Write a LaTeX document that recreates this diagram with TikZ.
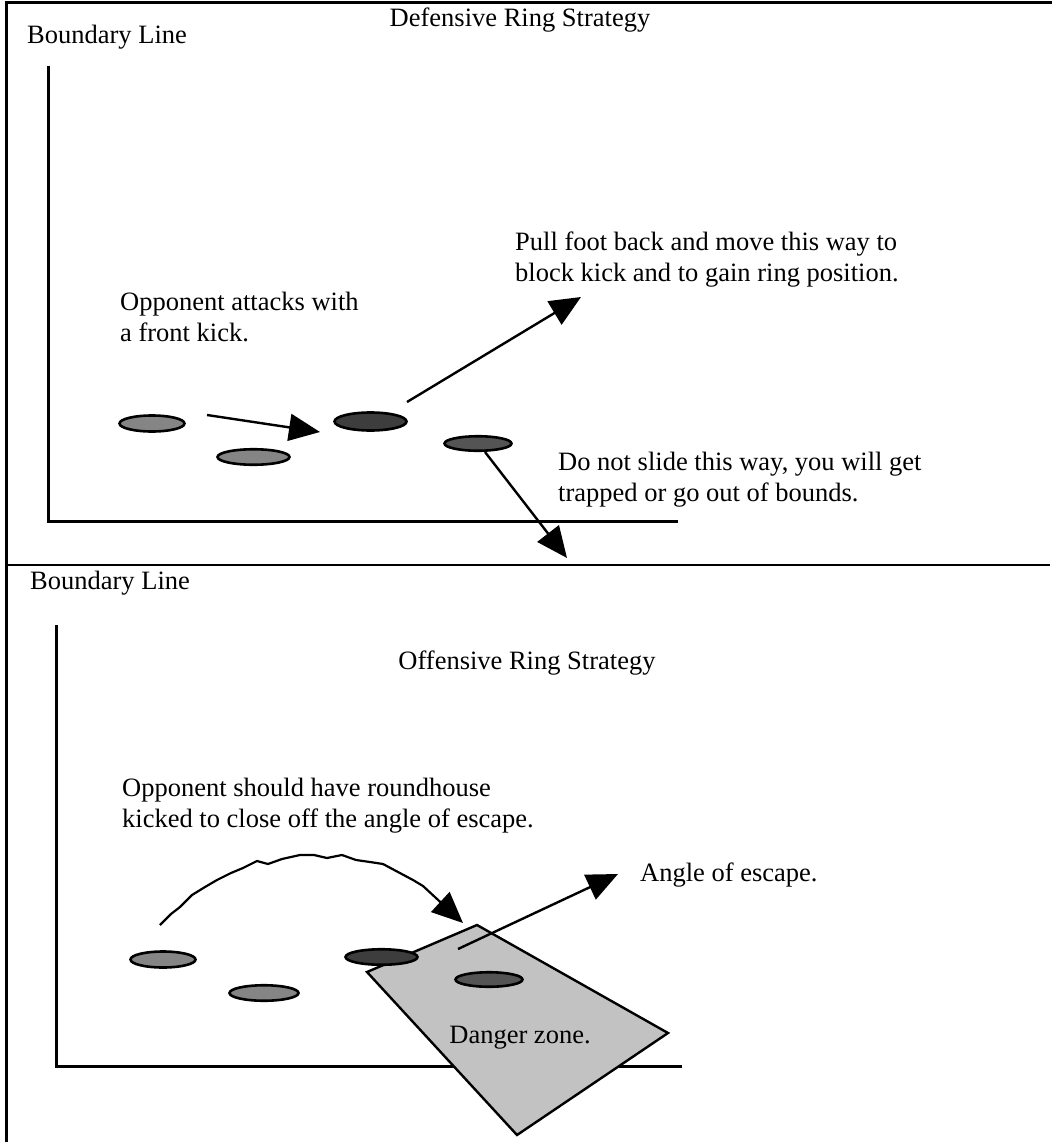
\documentclass[tikz,border=0pt]{standalone}
\usepackage{fontspec}
\setmainfont{Liberation Serif}
\usetikzlibrary{shapes.geometric,arrows.meta}
\definecolor{footlight}{gray}{0.52}
\definecolor{footdark}{gray}{0.24}
\definecolor{footmid}{gray}{0.33}
\definecolor{zonegray}{gray}{0.76}
\begin{document}
\begin{tikzpicture}[x=1pt,y=-1pt,
  foot/.style={ellipse, draw, line width=2.6pt, inner sep=0pt},
  txt/.style={font=\fontsize{26.5}{31}\selectfont, inner sep=0pt, align=left},
  mv/.style={line width=2.4pt, -{Triangle[length=31pt,width=27pt]}},
  frame/.style={line width=2.6pt},
  bound/.style={line width=3pt}]
\useasboundingbox (0,0) rectangle (1052,1142);
\draw[frame] (1052,2.5) -- (6.5,2.5) -- (6.5,1142);
\draw[frame] (6.5,565) -- (1050,565);
\node[txt] (title1) at (520,20) {Defensive Ring Strategy};
\node[txt, anchor=west] (bl1) at (27,37) {Boundary Line};
\coordinate (ulTop) at (48,66);
\coordinate (ulCorner) at (48,521);
\coordinate (ulEnd) at (678,521);
\draw[bound] (ulTop) -- (ulCorner) -- (ulEnd);
\node[txt, anchor=west] (pulltxt) at (515,260) {Pull foot back and move this way to\\block kick and to gain ring position.};
\node[txt, anchor=west] (atktxt) at (120,317) {Opponent attacks with\\a front kick.};
\node[txt, anchor=west] (slidetxt) at (558,480) {Do not slide this way, you will get\\trapped or go out of bounds.};
\node[foot, fill=footlight, minimum width=65pt, minimum height=16pt] (ft1) at (152,423.5){};
\node[foot, fill=footlight, minimum width=72pt, minimum height=15.5pt] (ft2) at (253.5,457){};
\node[foot, fill=footdark, minimum width=72pt, minimum height=18pt] (ft3) at (370.5,421.5){};
\node[foot, fill=footmid, minimum width=67pt, minimum height=14.5pt] (ft4) at (478,443.5){};
\coordinate (kickFrom) at (207,415);
\coordinate (kickTip) at (320,432);
\coordinate (pullFrom) at (407,402);
\coordinate (pullTip) at (581,297);
\coordinate (slideFrom) at (485,452);
\coordinate (slideTip) at (567,558);
\draw[mv] (kickFrom) -- (kickTip);
\draw[mv] (pullFrom) -- (pullTip);
\draw[mv] (slideFrom) -- (slideTip);
\node[txt, anchor=west] (bl2) at (30,583) {Boundary Line};
\node[txt] (title2) at (527,663) {Offensive Ring Strategy};
\coordinate (llTop) at (56,625);
\coordinate (llCorner) at (56,1066);
\coordinate (llEnd) at (682,1066);
\draw[bound] (llTop) -- (llCorner) -- (llEnd);
\node[txt, anchor=west] (rhtxt) at (122,806) {Opponent should have roundhouse\\kicked to close off the angle of escape.};
\coordinate (zTop) at (477,925);
\coordinate (zRight) at (668,1033);
\coordinate (zBottom) at (517,1135);
\coordinate (zLeft) at (367,972);
\draw[line width=2.4pt, fill=zonegray] (zTop) -- (zRight) -- (zBottom) -- (zLeft) -- cycle;
\node[txt] (dangertxt) at (520,1038) {Danger zone.};
\node[foot, fill=footlight, minimum width=65pt, minimum height=16pt] (bf1) at (163,959.5){};
\node[foot, fill=footlight, minimum width=69pt, minimum height=15.5pt] (bf2) at (264,993){};
\node[foot, fill=footdark, minimum width=72pt, minimum height=15.5pt] (bf3) at (381.5,957){};
\node[foot, fill=footmid, minimum width=67pt, minimum height=14.5pt] (bf4) at (489,979.5){};
\coordinate (escFrom) at (458,949);
\coordinate (escTip) at (618,874);
\draw[mv] (escFrom) -- (escTip);
\node[txt, anchor=west] (esctxt) at (640,875) {Angle of escape.};
\coordinate (rhFrom) at (160,925);
\coordinate (rhTip) at (463,923);
\draw[mv, line width=2.2pt] (rhFrom) -- (171,914) -- (180,907) -- (192,895) -- (205,887) -- (217,880) -- (231,873) -- (243,868) -- (257,861) -- (268,864) -- (282,859) -- (300,855) -- (314,855) -- (327,858) -- (342,855) -- (356,860) -- (370,862) -- (383,864) -- (398,872) -- (413,880) -- (423,886) -- (rhTip);
\end{tikzpicture}
\end{document}
